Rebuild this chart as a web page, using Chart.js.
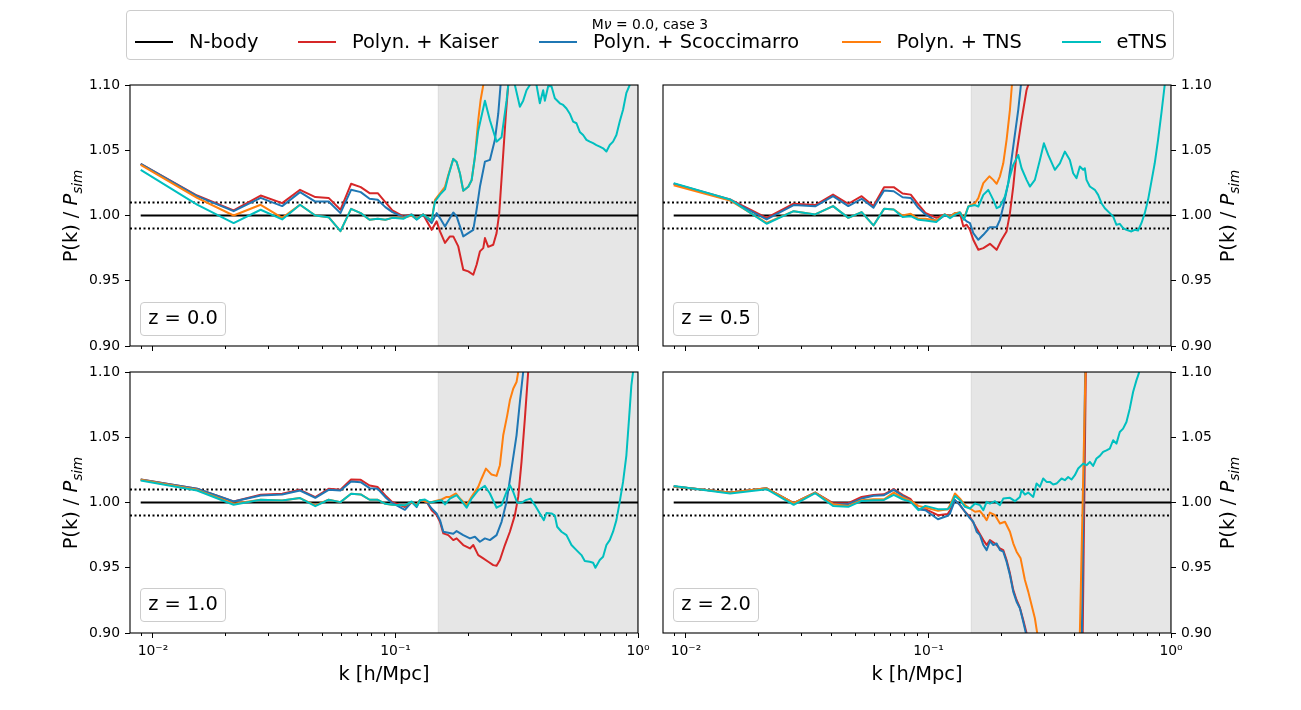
<!DOCTYPE html>
<html>
<head>
<meta charset="utf-8">
<script src="https://cdn.jsdelivr.net/npm/chart.js@4.4.1/dist/chart.umd.min.js"></script>
<style>
  html, body { margin:0; padding:0; background:#fff; overflow:hidden; }
  #wrap { position:relative; width:1301px; height:710px; font-family:'DejaVu Sans', sans-serif; color:#000; }
  canvas { position:absolute; left:0; top:0; }
  .abs { position:absolute; white-space:nowrap; line-height:1; }
  .legbox { position:absolute; left:126px; top:10px; width:1048px; height:50px; box-sizing:border-box;
            border:1px solid #cccccc; border-radius:4px; background:rgba(255,255,255,0.8); }
  .legtitle { position:absolute; left:126px; width:1048px; top:17.7px; text-align:center; font-size:13.9px; line-height:1; white-space:nowrap; }
  .legtext { position:absolute; top:31.9px; font-size:19.4px; line-height:1; white-space:nowrap; }
  .leghandle { position:absolute; top:40.5px; height:2px; width:38.8px; }
  .ylab { position:absolute; font-size:19.4px; line-height:1; white-space:nowrap; transform:translate(-50%,-50%) rotate(-90deg); }
  .ylab .sub { font-size:0.7em; font-style:italic; position:relative; top:0.36em; }
  .xlab { position:absolute; font-size:19.4px; line-height:1; white-space:nowrap; transform:translateX(-50%); top:663.6px; }
  .zbox { position:absolute; width:86px; height:34px; box-sizing:border-box; border:1px solid #cccccc; border-radius:4px;
          background:rgba(255,255,255,0.8); text-align:center; padding-top:5px; font-size:19.4px; line-height:19.4px; white-space:nowrap; }
</style>
</head>
<body>
<div id="wrap">
  <canvas id="c0" width="1301" height="710"></canvas>
  <canvas id="c1" width="1301" height="710"></canvas>
  <canvas id="c2" width="1301" height="710"></canvas>
  <canvas id="c3" width="1301" height="710"></canvas>
  <div id="overlay"></div>
</div>
<script>
// ---------------- data ----------------
const kLow = [0.0089,0.0152,0.0215,0.0278,0.0341,0.0404,0.0467,0.0530,0.0593,0.0656,0.0719,0.0782,0.0845,0.0908,0.0971];

const xTickValues = [0.009,0.01,0.02,0.03,0.04,0.05,0.06,0.07,0.08,0.09,0.1,0.2,0.3,0.4,0.5,0.6,0.7,0.8,0.9,1.0];
const xMajorValues = [0.01, 0.1, 1.0];
const xTickLabels = ['10\u207B\u00B2', '10\u207B\u00B9', '10\u2070'];
const yTickValues = [0.90, 0.95, 1.00, 1.05, 1.10];
const yTickLabels = ['0.90', '0.95', '1.00', '1.05', '1.10'];

const seriesNames = ['N-body', 'Polyn. + Kaiser', 'Polyn. + Scoccimarro', 'Polyn. + TNS', 'eTNS'];
const seriesColors = ['#000000', '#d62728', '#1f77b4', '#ff7f0e', '#00bfbf'];
const panelTitles = ['z = 0.0', 'z = 0.5', 'z = 1.0', 'z = 2.0'];
const legendTitle = 'M<i>\u03BD</i> = 0.0, case 3';

const nbodyLevel = 1.0;
const toleranceBand = [0.99, 1.01];
const fitLimitK = 0.15;
const X_MIN = 0.00804, X_MAX = 1.0, Y_MIN = 0.90, Y_MAX = 1.10;

// z = 0.0
const z0KaiserLow = [1.0396,1.0153,1.0039,1.0153,1.0095,1.0197,1.0141,1.0135,1.0044,1.0243,1.0217,1.0171,1.0171,1.0102,1.0039];
const z0KaiserHigh = [[0.1077,0.9993],[0.1166,1.0008],[0.1223,0.9975],[0.130,1.0008],[0.1410,0.989],[0.1478,0.9955],[0.1526,0.9878],[0.1600,0.979],[0.1677,0.984],[0.1731,0.984],[0.1815,0.9763],[0.1903,0.9584],[0.1996,0.9572],[0.2093,0.9546],[0.2160,0.9623],[0.2229,0.9725],[0.2301,0.975],[0.2338,0.9827],[0.2413,0.976],[0.2530,0.9776],[0.2611,0.9865],[0.2678,1.0018],[0.2765,1.040],[0.2853,1.078],[0.2917,1.100],[0.30,1.13]];
const z0ScocLow = [1.0396,1.0148,1.0033,1.0135,1.0072,1.0179,1.0107,1.0107,1.0018,1.0197,1.0179,1.0128,1.0120,1.0064,1.0026];
const z0ScocHigh = [[0.1077,0.9988],[0.1166,1.000],[0.1223,0.997],[0.130,1.0008],[0.1410,0.9942],[0.1478,1.0018],[0.1526,0.998],[0.1600,0.9916],[0.1677,0.998],[0.1731,1.0023],[0.1787,0.9993],[0.1903,0.984],[0.1996,0.9865],[0.2093,0.989],[0.2160,1.0044],[0.2229,1.022],[0.2338,1.0413],[0.2451,1.0426],[0.2570,1.058],[0.2653,1.078],[0.2712,1.10],[0.28,1.13]];
const z0TnsLow = [1.0388,1.0135,1.000,1.0082,0.9982,1.0082,1.000,0.9987,0.9880,1.0051,1.0018,0.9967,0.9975,0.9967,0.9982];
const z0TnsHigh = [[0.1077,0.9982],[0.1166,1.000],[0.1223,0.9975],[0.130,1.0008],[0.1410,0.9962],[0.1455,1.012],[0.1526,1.017],[0.1600,1.022],[0.1651,1.031],[0.1731,1.0434],[0.1787,1.041],[0.1844,1.032],[0.1903,1.019],[0.1996,1.022],[0.2060,1.027],[0.2126,1.045],[0.2194,1.073],[0.2244,1.0885],[0.2301,1.100],[0.24,1.14]];
const z0EtnsLow = [1.0350,1.0084,0.9942,1.0044,0.9970,1.0082,1.000,0.9987,0.9880,1.0051,1.0018,0.9967,0.9975,0.9967,0.9982];
const z0EtnsHigh = [[0.1077,0.9975],[0.1166,1.0008],[0.1223,0.997],[0.130,1.0008],[0.1410,0.9962],[0.1455,1.0107],[0.1526,1.016],[0.1600,1.020],[0.1651,1.030],[0.1731,1.0434],[0.1787,1.041],[0.1844,1.0324],[0.1903,1.019],[0.1996,1.022],[0.2060,1.027],[0.2126,1.045],[0.2194,1.065],[0.2338,1.088],[0.2451,1.073],[0.2611,1.0566],[0.2738,1.060],[0.2871,1.088],[0.2917,1.100],[0.2990,1.108],[0.3107,1.100],[0.3258,1.0834],[0.3362,1.088],[0.3470,1.096],[0.3582,1.100],[0.3700,1.106],[0.3815,1.100],[0.3938,1.086],[0.4064,1.096],[0.4129,1.088],[0.4262,1.099],[0.4398,1.099],[0.4540,1.0898],[0.4760,1.086],[0.4913,1.0847],[0.5071,1.082],[0.5234,1.078],[0.5402,1.072],[0.5575,1.0707],[0.5754,1.064],[0.5939,1.0617],[0.6129,1.058],[0.6326,1.0566],[0.6529,1.0554],[0.6739,1.054],[0.6955,1.0528],[0.7179,1.0515],[0.7409,1.049],[0.7647,1.054],[0.7892,1.0566],[0.8146,1.0617],[0.8407,1.072],[0.8677,1.081],[0.8956,1.094],[0.9243,1.100],[0.95,1.115]];

// z = 0.5
const z05KaiserLow = [1.0243,1.0123,0.9982,1.009,1.008,1.016,1.009,1.0148,1.0072,1.0217,1.0217,1.0169,1.016,1.0085,1.002];
const z05KaiserHigh = [[0.1077,0.9982],[0.1166,1.0008],[0.1227,0.9993],[0.1286,1.0005],[0.1349,1.0018],[0.1392,0.9916],[0.1437,0.9929],[0.1483,0.989],[0.1530,0.9814],[0.1605,0.9737],[0.1683,0.975],[0.1792,0.9783],[0.1910,0.9737],[0.2002,0.9814],[0.2099,0.9878],[0.2167,1.0018],[0.2236,1.0222],[0.2308,1.0477],[0.2420,1.0732],[0.2538,1.0962],[0.2578,1.10],[0.27,1.13]];
const z05ScocLow = [1.0243,1.0118,0.9970,1.008,1.007,1.0148,1.0072,1.0128,1.0059,1.0192,1.0186,1.014,1.0135,1.0059,1.0008];
const z05ScocHigh = [[0.1077,0.9957],[0.1166,1.000],[0.1227,0.9993],[0.1286,1.0018],[0.1349,1.0023],[0.1392,0.998],[0.1437,0.9955],[0.1483,0.9942],[0.1530,0.9865],[0.1605,0.9814],[0.1683,0.9852],[0.1792,0.991],[0.1910,0.991],[0.1971,0.9967],[0.2034,1.0069],[0.2133,1.0248],[0.2236,1.0528],[0.2345,1.081],[0.2405,1.100],[0.25,1.13]];
const z05TnsLow = [1.0232,1.0115,0.9944,1.0033,1.0008,1.0072,0.9982,1.0026,0.9924,1.0051,1.0046,1.000,1.0013,0.9975,0.9975];
const z05TnsHigh = [[0.1077,0.9962],[0.1166,1.0008],[0.1227,0.999],[0.1286,1.0018],[0.1349,1.0023],[0.1401,0.998],[0.1460,1.0069],[0.1555,1.0094],[0.1605,1.0133],[0.1683,1.0248],[0.1782,1.030],[0.1850,1.0273],[0.1910,1.0243],[0.1971,1.030],[0.2034,1.040],[0.2099,1.058],[0.2167,1.081],[0.2208,1.100],[0.23,1.13]];
const z05EtnsLow = [1.0248,1.0123,0.9937,1.0033,1.0008,1.0072,0.9982,1.0026,0.9924,1.0051,1.0046,0.9988,0.9995,0.9967,0.9962];
const z05EtnsHigh = [[0.1077,0.995],[0.1166,1.0008],[0.1227,0.998],[0.1286,1.0005],[0.1349,1.0023],[0.1401,0.9967],[0.1460,1.0069],[0.1555,1.008],[0.1605,1.0069],[0.1683,1.0158],[0.1764,1.0196],[0.1850,1.012],[0.1910,1.0056],[0.1971,1.0069],[0.2067,1.0146],[0.2167,1.030],[0.2236,1.0388],[0.2345,1.0464],[0.2420,1.0362],[0.2538,1.0273],[0.2619,1.0222],[0.2746,1.0273],[0.2880,1.0426],[0.2992,1.0553],[0.3117,1.0464],[0.3320,1.035],[0.3481,1.040],[0.3650,1.049],[0.3827,1.0426],[0.3950,1.0324],[0.4077,1.0286],[0.4208,1.0375],[0.4343,1.035],[0.4412,1.0362],[0.4483,1.0273],[0.4627,1.0222],[0.4851,1.0197],[0.5007,1.0158],[0.5168,1.0094],[0.5334,1.0056],[0.5593,1.0018],[0.5772,0.9993],[0.5957,0.9929],[0.6149,0.9936],[0.6346,0.9903],[0.6550,0.989],[0.6868,0.9878],[0.7088,0.989],[0.7316,0.9885],[0.7551,0.9941],[0.7794,1.0018],[0.8043,1.012],[0.8302,1.026],[0.8568,1.040],[0.8844,1.058],[0.9127,1.0783],[0.9420,1.100],[0.97,1.12]];

// z = 1.0
const z1KaiserLow = [1.0176,1.0105,1.0008,1.0059,1.0067,1.0097,1.0041,1.0105,1.0097,1.0176,1.0174,1.013,1.0118,1.0054,1.0003];
const z1KaiserHigh = [[0.1094,0.9965],[0.1166,1.0003],[0.1223,0.9978],[0.1262,1.0018],[0.1344,1.0005],[0.1410,0.9941],[0.1478,0.9903],[0.1526,0.9852],[0.1575,0.9763],[0.1651,0.975],[0.1731,0.9712],[0.1787,0.9725],[0.1903,0.9674],[0.2028,0.9648],[0.2093,0.9674],[0.2194,0.9597],[0.2301,0.9572],[0.2413,0.9546],[0.2530,0.952],[0.2611,0.9515],[0.2695,0.9559],[0.2826,0.9674],[0.2963,0.9776],[0.3107,0.9903],[0.3207,1.0043],[0.3309,1.0311],[0.3416,1.0643],[0.3525,1.100],[0.365,1.13]];
const z1ScocLow = [1.0176,1.0105,1.0008,1.0054,1.0062,1.0092,1.0036,1.0097,1.0092,1.0161,1.0156,1.011,1.0105,1.0041,0.9995];
const z1ScocHigh = [[0.1094,0.9944],[0.1166,1.0003],[0.1223,0.9965],[0.1262,1.0018],[0.1344,1.0005],[0.1410,0.9954],[0.1478,0.9916],[0.1526,0.9865],[0.1575,0.9776],[0.1651,0.9768],[0.1731,0.9760],[0.1787,0.9781],[0.1903,0.975],[0.2028,0.9725],[0.2126,0.9738],[0.2229,0.9699],[0.2338,0.9725],[0.2451,0.9712],[0.2611,0.975],[0.2738,0.9852],[0.2871,1.0005],[0.3010,1.026],[0.3156,1.0515],[0.3258,1.077],[0.3362,1.100],[0.35,1.13]];
const z1TnsLow = [1.0174,1.0097,0.999,1.0021,1.0016,1.0034,0.9978,1.0021,1.0003,1.0067,1.0062,1.0021,1.0021,0.999,0.9983];
const z1TnsHigh = [[0.1094,0.9978],[0.1166,1.0003],[0.1223,0.9978],[0.1262,1.0018],[0.1344,1.0005],[0.1388,1.000],[0.1502,1.0018],[0.1550,1.0023],[0.1625,1.0043],[0.1677,1.0043],[0.1777,1.0069],[0.1844,1.003],[0.1965,0.998],[0.2060,1.0043],[0.2194,1.012],[0.2265,1.0184],[0.2360,1.026],[0.2490,1.0214],[0.2611,1.0204],[0.2695,1.0286],[0.2781,1.0515],[0.2889,1.0668],[0.2963,1.0783],[0.3058,1.0872],[0.3156,1.0923],[0.3207,1.100],[0.33,1.12]];
const z1EtnsLow = [1.0169,1.0092,0.9983,1.0021,1.0016,1.0034,0.9972,1.0021,1.0003,1.0067,1.0062,1.0021,1.0021,0.999,0.9983];
const z1EtnsHigh = [[0.1094,0.9978],[0.1166,1.0008],[0.1223,0.9972],[0.1262,1.0018],[0.1323,1.0023],[0.1388,1.000],[0.1478,1.001],[0.1550,1.0018],[0.1600,0.9985],[0.1677,1.003],[0.1787,1.0056],[0.1874,1.001],[0.1965,0.996],[0.2060,1.003],[0.2194,1.0094],[0.2338,1.0127],[0.2451,1.0069],[0.2611,0.996],[0.2738,0.998],[0.2871,1.0082],[0.2963,1.0133],[0.3058,1.0082],[0.3176,0.9998],[0.3309,0.9998],[0.3448,1.0018],[0.3604,1.003],[0.3755,0.998],[0.3938,0.9916],[0.4090,0.9865],[0.4195,0.992],[0.4398,0.9916],[0.4540,0.990],[0.4642,0.9814],[0.4836,0.9776],[0.5071,0.975],[0.5317,0.9674],[0.5575,0.9635],[0.5846,0.9597],[0.6033,0.9551],[0.6326,0.9546],[0.6529,0.9538],[0.6675,0.9500],[0.6955,0.9559],[0.7179,0.9584],[0.7409,0.9674],[0.7647,0.9712],[0.7892,0.9776],[0.8146,0.9865],[0.8407,1.0005],[0.8677,1.0158],[0.8956,1.0362],[0.9185,1.0643],[0.9390,1.0898],[0.9540,1.100],[0.97,1.12]];

// z = 2.0
const z2KaiserLow = [1.0122,1.0076,1.0109,0.9995,1.0076,0.9995,0.9995,1.0043,1.0058,1.0063,1.0102,1.0058,1.0025,0.9949,0.9949];
const z2KaiserHigh = [[0.1094,0.9903],[0.120,0.9911],[0.1227,0.9941],[0.1286,1.0018],[0.1349,0.998],[0.1414,0.9929],[0.1483,0.989],[0.1580,0.98],[0.1683,0.9712],[0.1737,0.9674],[0.1792,0.9712],[0.1881,0.9686],[0.1971,0.9648],[0.2034,0.9635],[0.2099,0.9559],[0.2167,0.9457],[0.2236,0.933],[0.2308,0.9253],[0.2382,0.9194],[0.2459,0.91],[0.2538,0.8998],[0.30,0.80],[0.40,0.60],[0.4324,0.899],[0.4455,1.101],[0.50,1.5]];
const z2ScocLow = [1.0122,1.0076,1.0109,0.9995,1.0076,0.9987,0.9987,1.0030,1.0051,1.0056,1.0097,1.0051,1.0012,0.9949,0.9941];
const z2ScocHigh = [[0.1094,0.9872],[0.120,0.9898],[0.1227,0.9916],[0.1286,1.0018],[0.1349,0.998],[0.1414,0.9929],[0.1483,0.9878],[0.1530,0.9852],[0.1580,0.9776],[0.1630,0.975],[0.1683,0.9674],[0.1737,0.9635],[0.1792,0.9704],[0.1850,0.9674],[0.1910,0.9686],[0.1971,0.9635],[0.2034,0.9623],[0.2099,0.9546],[0.2167,0.9444],[0.2236,0.9317],[0.2308,0.924],[0.2382,0.919],[0.2459,0.9087],[0.2522,0.8998],[0.30,0.80],[0.40,0.60],[0.4290,0.899],[0.4426,1.101],[0.50,1.5]];
const z2TnsLow = [1.0122,1.0076,1.0109,0.9995,1.0076,0.9987,0.9974,1.0018,1.0025,1.0025,1.0076,1.0038,1.0012,0.9974,0.9962];
const z2TnsHigh = [[0.1094,0.9936],[0.120,0.9949],[0.1227,0.998],[0.1286,1.0069],[0.1349,1.003],[0.1414,0.998],[0.1483,0.9954],[0.1555,0.9929],[0.1630,0.9934],[0.1683,0.9903],[0.1737,0.9865],[0.1792,0.9923],[0.1881,0.9903],[0.1971,0.9839],[0.2067,0.9852],[0.2167,0.9776],[0.2236,0.9687],[0.2308,0.9623],[0.2398,0.9572],[0.2498,0.9406],[0.2578,0.9317],[0.2661,0.9215],[0.2746,0.9113],[0.2808,0.8998],[0.32,0.80],[0.40,0.55],[0.4208,0.899],[0.4440,1.101],[0.50,1.5]];
const z2EtnsLow = [1.0127,1.0069,1.0102,0.9982,1.0071,0.9974,0.9967,1.0012,1.0018,1.0020,1.0058,1.0025,1.0005,0.9941,0.9974];
const z2EtnsHigh = [[0.1094,0.9949],[0.120,0.9949],[0.1227,0.9967],[0.1286,1.005],[0.1349,1.0018],[0.1414,0.9967],[0.1483,0.9954],[0.1555,0.9992],[0.1630,0.998],[0.1683,0.9941],[0.1737,1.0005],[0.1792,0.9992],[0.1881,1.001],[0.1971,0.998],[0.2034,1.003],[0.2167,1.0036],[0.2272,1.001],[0.2382,1.0043],[0.2420,1.0094],[0.2498,1.0061],[0.2578,1.0076],[0.2703,1.0043],[0.2790,1.0145],[0.2880,1.012],[0.2972,1.0184],[0.3068,1.0158],[0.3166,1.0158],[0.3268,1.0138],[0.3373,1.0145],[0.3537,1.0184],[0.3650,1.0171],[0.3767,1.0196],[0.3888,1.0176],[0.4013,1.0209],[0.4142,1.026],[0.4343,1.0298],[0.4483,1.0286],[0.4627,1.0311],[0.4775,1.028],[0.4928,1.0337],[0.5087,1.0357],[0.5250,1.0388],[0.5419,1.040],[0.5593,1.0413],[0.5772,1.0477],[0.5957,1.0451],[0.6149,1.054],[0.6346,1.0566],[0.6550,1.0617],[0.6760,1.0719],[0.6977,1.0847],[0.7201,1.0936],[0.7362,1.0987],[0.76,1.11]];

// ---------------- building ----------------
const FONT = "'DejaVu Sans', sans-serif";
Chart.defaults.font.family = FONT;
Chart.defaults.color = '#000';

function toPoints(low, high) {
  return kLow.map((k, i) => ({x: k, y: low[i]})).concat(high.map(p => ({x: p[0], y: p[1]})));
}

const framePlugin = {
  id: 'frame',
  afterDatasetsDraw(chart) {
    const {ctx, chartArea: a} = chart;
    ctx.save();
    ctx.strokeStyle = '#000';
    ctx.lineWidth = 1.1;
    ctx.strokeRect(a.left, a.top, a.right - a.left, a.bottom - a.top);
    ctx.restore();
  }
};

function xScale(showLabels) {
  return {
    type: 'logarithmic', min: X_MIN, max: X_MAX,
    afterBuildTicks: s => { s.ticks = xTickValues.map(v => ({value: v})); },
    afterFit: s => { s.height = 30; s.paddingLeft = 0; s.paddingRight = 0; },
    ticks: {
      autoSkip: false, maxRotation: 0, minRotation: 0, padding: 5, color: '#000',
      font: {family: FONT, size: 13.9},
      callback: v => { if (!showLabels) return ''; const i = xMajorValues.indexOf(v); return i >= 0 ? xTickLabels[i] : ''; }
    },
    grid: {
      display: true, drawOnChartArea: false, drawTicks: true, tickLength: 5,
      tickColor: '#000', tickWidth: 1,
      tickBorderDash: c => (c.tick && xMajorValues.indexOf(c.tick.value) < 0) ? [3, 40] : []
    },
    border: {display: false}
  };
}

function yScale(pos) {
  return {
    type: 'linear', position: pos, min: Y_MIN, max: Y_MAX,
    afterBuildTicks: s => { s.ticks = yTickValues.map(v => ({value: v})); },
    afterFit: s => { s.width = 60; s.paddingTop = 0; s.paddingBottom = 0; },
    ticks: {
      padding: 5, color: '#000', font: {family: FONT, size: 13.9},
      callback: v => { const i = yTickValues.indexOf(v); return i >= 0 ? yTickLabels[i] : ''; }
    },
    grid: {display: true, drawOnChartArea: false, drawTicks: true, tickLength: 5, tickColor: '#000', tickWidth: 1},
    border: {display: false}
  };
}

function lineDs(label, points, color, order) {
  return {label, data: points, borderColor: color, backgroundColor: color, borderWidth: 2,
          pointRadius: 0, fill: false, tension: 0, order, clip: 0,
          borderJoinStyle: 'round', borderCapStyle: 'butt'};
}

const panels = [
  {id: 'c0', series: [[z0KaiserLow, z0KaiserHigh], [z0ScocLow, z0ScocHigh], [z0TnsLow, z0TnsHigh], [z0EtnsLow, z0EtnsHigh]],
   pad: {left: 70, right: 663, top: 85, bottom: 334}, yPos: 'left', xLabels: false},
  {id: 'c1', series: [[z05KaiserLow, z05KaiserHigh], [z05ScocLow, z05ScocHigh], [z05TnsLow, z05TnsHigh], [z05EtnsLow, z05EtnsHigh]],
   pad: {left: 663, right: 70, top: 85, bottom: 334}, yPos: 'right', xLabels: false},
  {id: 'c2', series: [[z1KaiserLow, z1KaiserHigh], [z1ScocLow, z1ScocHigh], [z1TnsLow, z1TnsHigh], [z1EtnsLow, z1EtnsHigh]],
   pad: {left: 70, right: 663, top: 372, bottom: 47}, yPos: 'left', xLabels: true},
  {id: 'c3', series: [[z2KaiserLow, z2KaiserHigh], [z2ScocLow, z2ScocHigh], [z2TnsLow, z2TnsHigh], [z2EtnsLow, z2EtnsHigh]],
   pad: {left: 663, right: 70, top: 372, bottom: 47}, yPos: 'right', xLabels: true}
];

panels.forEach(p => {
  const datasets = [];
  datasets.push({
    label: 'fit range', data: [{x: fitLimitK, y: Y_MIN}, {x: fitLimitK, y: Y_MAX}, {x: X_MAX, y: Y_MAX}, {x: X_MAX, y: Y_MIN}],
    borderColor: 'rgba(128,128,128,0.2)', backgroundColor: 'rgba(128,128,128,0.2)', borderWidth: 1,
    pointRadius: 0, fill: 'start', tension: 0, order: 100
  });
  toleranceBand.forEach((lv, i) => datasets.push({
    label: 'tol' + i, data: [{x: X_MIN, y: lv}, {x: X_MAX, y: lv}], borderColor: '#000', borderWidth: 2,
    borderDash: [2, 2.5], pointRadius: 0, fill: false, order: 90 + i
  }));
  datasets.push(lineDs(seriesNames[0], [{x: kLow[0], y: nbodyLevel}, {x: X_MAX, y: nbodyLevel}], seriesColors[0], 80));
  p.series.forEach((s, i) => datasets.push(lineDs(seriesNames[i + 1], toPoints(s[0], s[1]), seriesColors[i + 1], 40 - i * 10)));

  new Chart(document.getElementById(p.id), {
    type: 'line',
    data: {datasets},
    options: {
      responsive: false, animation: false, events: [],
      layout: {padding: p.pad},
      plugins: {legend: {display: false}, tooltip: {enabled: false}},
      scales: {x: xScale(p.xLabels), y: yScale(p.yPos)}
    },
    plugins: [framePlugin]
  });
});

// ---------------- text overlays ----------------
const ov = document.getElementById('overlay');
function add(html) { ov.insertAdjacentHTML('beforeend', html); }

add('<div class="legbox"></div>');
add('<div class="legtitle">' + legendTitle + '</div>');
const legendTextX = [189, 352, 593, 896.5, 1116.5];
seriesNames.forEach((n, i) => {
  add('<div class="leghandle" style="left:' + (legendTextX[i] - 54.3) + 'px;background:' + seriesColors[i] + '"></div>');
  add('<div class="legtext" style="left:' + legendTextX[i] + 'px">' + n + '</div>');
});

const ylabHtml = 'P(k) / <i>P</i><span class="sub">sim</span>';
[[71, 215.5], [71, 502.5], [1228, 215.5], [1228, 502.5]].forEach(c => {
  add('<div class="ylab" style="left:' + c[0] + 'px;top:' + c[1] + 'px">' + ylabHtml + '</div>');
});
[384, 917].forEach(x => add('<div class="xlab" style="left:' + x + 'px">k [h/Mpc]</div>'));

[[140, 302], [673, 302], [140, 588], [673, 588]].forEach((c, i) => {
  add('<div class="zbox" style="left:' + c[0] + 'px;top:' + c[1] + 'px">' + panelTitles[i] + '</div>');
});
</script>
</body>
</html>
